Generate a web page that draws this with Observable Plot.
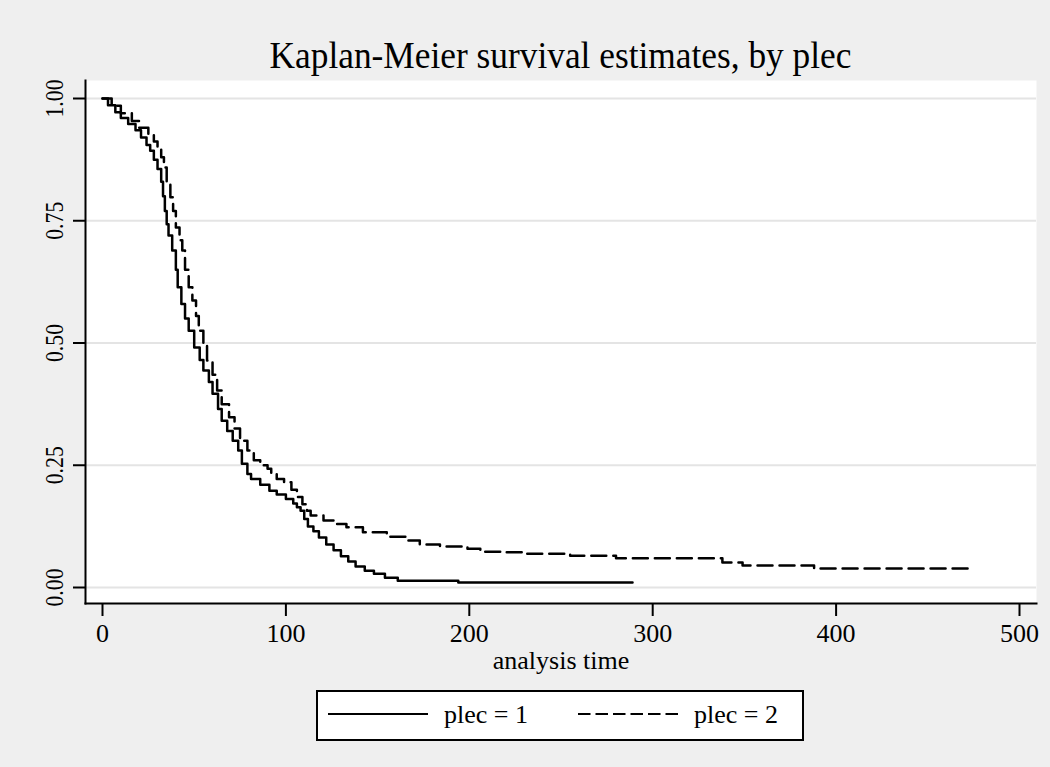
<!DOCTYPE html>
<html><head><meta charset="utf-8">
<script src="https://cdn.jsdelivr.net/npm/d3@7"></script>
<script src="https://cdn.jsdelivr.net/npm/@observablehq/plot@0.6"></script>
<style>
html,body{margin:0;padding:0;background:#efefef;}
#wrap{position:relative;width:1050px;height:767px;background:#efefef;font-family:"Liberation Serif","Times New Roman",serif;overflow:hidden;}
#title{position:absolute;left:85px;width:951px;top:37px;text-align:center;font-size:37px;line-height:37px;color:#000;white-space:nowrap;transform:scaleX(0.955);transform-origin:center;}
#chart{position:absolute;left:0;top:0;}
#legend{position:absolute;left:0;top:0;}
</style>
</head><body>
<div id="wrap"><div id="chart"></div><div id="title"></div><div id="legend"></div></div>
<script>
const titleText = "Kaplan-Meier survival estimates, by plec";
const xLabel = "analysis time";
const seriesNames = ["plec = 1", "plec = 2"];
const xTicks = [0, 100, 200, 300, 400, 500];
const yTicks = [0, 0.25, 0.5, 0.75, 1];

// plec = 1 : step corners (time, survival after that time)
const time1 = [0, 3, 7, 10, 14, 18, 21, 24, 26, 28, 30, 32, 33, 34, 35, 36, 38, 40, 41, 43, 45, 47, 50, 53, 55, 58, 60, 63, 65, 68, 71, 74, 76, 79, 81, 86, 91, 95, 100, 104, 106, 108, 110, 112, 115, 118, 122, 126, 130, 134, 138, 143, 148, 154, 161, 194, 289];
const surv1 = [1.0, 0.986, 0.972, 0.96, 0.948, 0.935, 0.92, 0.905, 0.893, 0.875, 0.856, 0.83, 0.80, 0.77, 0.743, 0.72, 0.689, 0.65, 0.614, 0.58, 0.55, 0.525, 0.491, 0.465, 0.444, 0.42, 0.396, 0.365, 0.341, 0.32, 0.30, 0.28, 0.253, 0.232, 0.222, 0.21, 0.198, 0.19, 0.181, 0.172, 0.164, 0.157, 0.14, 0.125, 0.115, 0.102, 0.088, 0.076, 0.064, 0.053, 0.043, 0.034, 0.028, 0.02, 0.014, 0.010, 0.010];

// plec = 2
const time2 = [0, 5, 10, 16, 20, 25, 28, 30, 32, 33.5, 35, 37, 38.5, 40, 42, 43.5, 45, 47, 49, 51, 52.5, 55, 57, 60, 62.5, 65, 69, 72, 75, 79, 82.5, 86, 90, 92, 95, 99, 103, 106, 109, 111.5, 113.5, 120.5, 126, 133, 142, 155, 166, 173, 184, 199, 206, 217, 231, 255, 280, 338, 349, 388, 473];
const surv2 = [1.0, 0.985, 0.97, 0.954, 0.94, 0.927, 0.912, 0.897, 0.88, 0.859, 0.83, 0.798, 0.77, 0.736, 0.71, 0.689, 0.65, 0.614, 0.587, 0.555, 0.525, 0.495, 0.464, 0.435, 0.403, 0.375, 0.348, 0.325, 0.30, 0.28, 0.26, 0.25, 0.243, 0.232, 0.222, 0.215, 0.2, 0.185, 0.17, 0.157, 0.147, 0.137, 0.130, 0.123, 0.113, 0.104, 0.096, 0.088, 0.084, 0.079, 0.073, 0.072, 0.069, 0.065, 0.060, 0.051, 0.045, 0.039, 0.039];

const d1 = time1.map((t, i) => ({t, s: surv1[i], g: seriesNames[0]}));
const d2 = time2.map((t, i) => ({t, s: surv2[i], g: seriesNames[1]}));

const FONT = '"Liberation Serif","Times New Roman",serif';
const fmt = d3.format(".2f");

const plot = Plot.plot({
  width: 1050, height: 767,
  marginLeft: 85, marginRight: 14, marginTop: 80, marginBottom: 164,
  style: {background: "transparent", fontFamily: FONT, fontSize: "26px", color: "black", overflow: "visible"},
  x: {domain: [0, 500], insetLeft: 17, insetRight: 17},
  y: {domain: [0, 1], insetTop: 18, insetBottom: 16},
  marks: [
    Plot.frame({fill: "white", stroke: null}),
    Plot.gridY(yTicks, {stroke: "#e4e4e4", strokeOpacity: 1, strokeWidth: 2}),
    Plot.frame({anchor: "left", stroke: "black", strokeWidth: 2, strokeOpacity: 1}),
    Plot.frame({anchor: "bottom", stroke: "black", strokeWidth: 2, strokeOpacity: 1}),
    Plot.axisX(xTicks, {tickSize: 13, tickPadding: 7, strokeWidth: 2, label: null, fontSize: 26, tickFormat: d => String(d)}),
    Plot.axisY(yTicks, {tickSize: 12, strokeWidth: 2, label: null, tickFormat: () => ""}),
    Plot.text(yTicks, {y: d => d, text: d => fmt(d), frameAnchor: "left", dx: -31, rotate: -90, textAnchor: "middle", lineAnchor: "middle", fontSize: 26, className: "ylab"}),
    Plot.line(d1, {x: "t", y: "s", curve: "step-after", stroke: "black", strokeWidth: 2.5}),
    Plot.line(d2, {x: "t", y: "s", curve: "step-after", stroke: "black", strokeWidth: 2.5, strokeDasharray: "15,7"}),
    Plot.text([xLabel], {text: d => d, frameAnchor: "bottom", dy: 57, lineAnchor: "middle", fontSize: 26})
  ]
});
document.getElementById("chart").appendChild(plot);
plot.querySelectorAll("g.ylab text").forEach(t => {
  t.setAttribute("textLength", 38);
  t.setAttribute("lengthAdjust", "spacingAndGlyphs");
});
document.getElementById("title").textContent = titleText;

// legend below the plot
const lg = d3.select("#legend").append("svg").attr("width", 1050).attr("height", 767);
lg.append("rect").attr("x", 317).attr("y", 691).attr("width", 486).attr("height", 49)
  .attr("fill", "white").attr("stroke", "black").attr("stroke-width", 2);
const items = [
  {x1: 328, x2: 428, tx: 444, dash: null, label: seriesNames[0]},
  {x1: 578, x2: 678, tx: 694, dash: "12.5,5", label: seriesNames[1]}
];
for (const it of items) {
  lg.append("line").attr("x1", it.x1).attr("x2", it.x2).attr("y1", 714).attr("y2", 714)
    .attr("stroke", "black").attr("stroke-width", 2).attr("stroke-dasharray", it.dash);
  lg.append("text").attr("x", it.tx).attr("y", 723).attr("font-family", FONT).attr("font-size", 26)
    .text(it.label);
}
</script>
</body></html>
